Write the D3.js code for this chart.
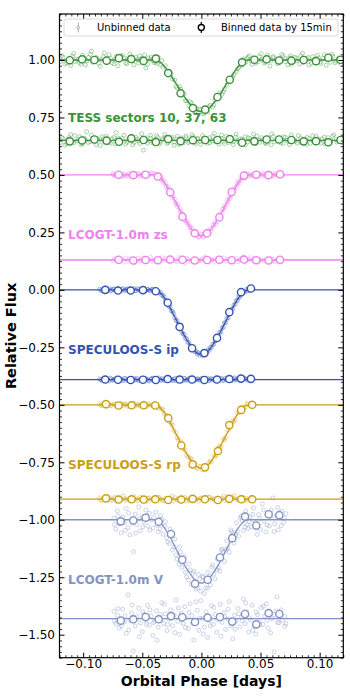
<!DOCTYPE html>
<html>
<head>
<meta charset="utf-8">
<script src="https://cdn.jsdelivr.net/npm/d3@7"></script>
<style>
  body { margin: 0; background: #fff; }
  svg { display: block; font-family: "DejaVu Sans", sans-serif; }
</style>
</head>
<body>
<div id="chart"></div>
<script>
// ---- data ----
const xMajor = [-0.10, -0.05, 0.00, 0.05, 0.10];
const yMajor = [-1.50, -1.25, -1.00, -0.75, -0.50, -0.25, 0.00, 0.25, 0.50, 0.75, 1.00];

// transit model, shared phase grid
const modelPhase = [-0.12, -0.040, -0.0375, -0.0345, -0.0315, -0.0285, -0.0255, -0.0225, -0.0195, -0.0165, -0.0135, -0.0105, -0.0075, -0.0045, -0.0015, 0, 0.0015, 0.0045, 0.0075, 0.0105, 0.0135, 0.0165, 0.0195, 0.0225, 0.0255, 0.0285, 0.0315, 0.0345, 0.0375, 0.040, 0.12];
const tessModel = [1, 1, 0.998, 0.989, 0.973, 0.953, 0.930, 0.906, 0.881, 0.856, 0.834, 0.813, 0.795, 0.782, 0.776, 0.775, 0.776, 0.782, 0.795, 0.813, 0.834, 0.856, 0.881, 0.906, 0.930, 0.953, 0.973, 0.989, 0.998, 1, 1];
const zsModel = [0.5, 0.5, 0.497, 0.487, 0.468, 0.444, 0.418, 0.389, 0.360, 0.330, 0.304, 0.280, 0.259, 0.243, 0.236, 0.235, 0.236, 0.243, 0.259, 0.280, 0.304, 0.330, 0.360, 0.389, 0.418, 0.444, 0.468, 0.487, 0.497, 0.5, 0.5];
const ipModel = [0, 0, -0.003, -0.014, -0.034, -0.059, -0.087, -0.118, -0.148, -0.179, -0.207, -0.232, -0.255, -0.272, -0.279, -0.280, -0.279, -0.272, -0.255, -0.232, -0.207, -0.179, -0.148, -0.118, -0.087, -0.059, -0.034, -0.014, -0.003, 0, 0];
const rpModel = [-0.5, -0.5, -0.503, -0.514, -0.533, -0.558, -0.585, -0.616, -0.646, -0.676, -0.704, -0.728, -0.750, -0.767, -0.774, -0.775, -0.774, -0.767, -0.750, -0.728, -0.704, -0.676, -0.646, -0.616, -0.585, -0.558, -0.533, -0.514, -0.503, -0.5, -0.5];
const vModel = [-1, -1, -1.003, -1.014, -1.033, -1.058, -1.085, -1.116, -1.146, -1.176, -1.204, -1.228, -1.250, -1.267, -1.274, -1.275, -1.274, -1.267, -1.250, -1.228, -1.204, -1.176, -1.146, -1.116, -1.085, -1.058, -1.033, -1.014, -1.003, -1, -1];

// TESS
const tessRaw = [[-0.119,0.994],[-0.117,1.012],[-0.114,0.987],[-0.112,1.006],[-0.109,1.017],[-0.107,0.992],[-0.104,1.003],[-0.102,0.981],[-0.099,1.009],[-0.097,0.996],[-0.094,1.024],[-0.092,0.990],[-0.089,1.011],[-0.087,0.985],[-0.084,1.002],[-0.082,1.031],[-0.079,0.994],[-0.077,1.008],[-0.074,0.983],[-0.072,1.015],[-0.069,0.999],[-0.067,1.020],[-0.064,0.988],[-0.062,1.006],[-0.059,1.013],[-0.057,0.979],[-0.054,1.001],[-0.052,1.018],[-0.049,0.992],[-0.047,0.965],[-0.045,1.009],[-0.043,1.004],[-0.041,0.997],
  [-0.118,1.019],[-0.1155,0.983],[-0.113,1.001],[-0.1105,0.976],[-0.108,1.028],[-0.1055,1.004],[-0.103,0.989],[-0.1005,1.021],[-0.098,0.979],[-0.0955,1.011],[-0.093,1.038],[-0.0905,0.993],[-0.088,1.005],[-0.0855,0.972],[-0.083,1.014],[-0.0805,0.996],[-0.078,1.023],[-0.0755,0.988],[-0.073,1.002],[-0.0705,0.975],[-0.068,1.017],[-0.0655,1.009],[-0.063,0.984],[-0.0605,1.026],[-0.058,0.997],[-0.0555,1.012],[-0.053,0.986],[-0.0505,1.007],[-0.048,1.022],[-0.0455,0.982],[-0.0425,1.013],[-0.040,0.988],
  [-0.0385,0.991],[-0.0365,1.012],[-0.0345,0.978],[-0.0325,0.969],[-0.0305,0.975],[-0.0285,0.941],[-0.0265,0.949],[-0.0245,0.917],[-0.0225,0.912],[-0.0205,0.879],[-0.0185,0.884],[-0.0165,0.848],[-0.0145,0.852],[-0.0125,0.822],[-0.0105,0.801],[-0.0085,0.812],[-0.0065,0.779],[-0.0045,0.791],[-0.0025,0.768],[-0.0005,0.784],[0.0015,0.765],[0.0035,0.789],[0.0055,0.774],[0.0075,0.803],[0.0095,0.796],[0.0115,0.826],[0.0135,0.829],[0.0155,0.857],[0.0175,0.851],[0.0195,0.874],[0.0215,0.891],[0.0235,0.909],[0.0255,0.921],[0.0275,0.938],[0.0295,0.949],[0.0315,0.966],[0.0335,0.976],[0.0355,1.004],[0.0375,0.991],[0.0395,1.012],
  [-0.0375,0.985],[-0.0335,0.997],[-0.0295,0.948],[-0.0255,0.939],[-0.0215,0.885],[-0.0175,0.873],[-0.0135,0.823],[-0.0095,0.818],[-0.0055,0.776],[-0.0015,0.787],[0.0025,0.769],[0.0065,0.797],[0.0105,0.804],[0.0145,0.846],[0.0185,0.862],[0.0225,0.905],[0.0265,0.927],[0.0305,0.961],[0.0345,0.979],[0.0385,1.006],
  [0.042,0.995],[0.044,1.008],[0.046,0.987],[0.049,1.015],[0.051,1.002],[0.054,0.991],[0.056,1.021],[0.059,0.998],[0.061,1.010],[0.064,0.984],[0.066,1.005],[0.069,1.017],[0.071,0.993],[0.074,1.008],[0.076,0.981],[0.079,1.012],[0.081,0.997],[0.084,1.019],[0.086,0.989],[0.089,1.006],[0.091,0.978],[0.094,1.014],[0.096,0.996],[0.099,1.009],[0.101,0.985],[0.104,1.023],[0.106,1.001],[0.109,0.990],[0.111,1.016],[0.114,0.994],[0.116,1.007],[0.119,0.998],
  [0.0405,1.018],[0.043,0.981],[0.0455,1.003],[0.048,0.992],[0.0505,1.027],[0.053,0.986],[0.0555,1.009],[0.058,0.974],[0.0605,1.015],[0.063,1.001],[0.0655,0.988],[0.068,1.024],[0.0705,1.006],[0.073,0.979],[0.0755,1.017],[0.078,0.991],[0.0805,1.008],[0.083,0.983],[0.0855,1.029],[0.088,0.997],[0.0905,1.011],[0.093,0.986],[0.0955,1.003],[0.098,1.021],[0.1005,0.992],[0.103,1.007],[0.1055,0.977],[0.108,1.012],[0.1105,1.025],[0.113,0.988],[0.1155,1.004],[0.118,0.982]];
const tessRawRes = [[-0.119,0.641],[-0.117,0.658],[-0.114,0.636],[-0.112,0.662],[-0.109,0.647],[-0.107,0.671],[-0.104,0.652],[-0.102,0.633],[-0.099,0.660],[-0.097,0.688],[-0.094,0.645],[-0.092,0.657],[-0.089,0.631],[-0.087,0.649],[-0.084,0.666],[-0.082,0.642],[-0.079,0.655],[-0.077,0.638],[-0.074,0.663],[-0.072,0.684],[-0.069,0.647],[-0.067,0.659],[-0.064,0.634],[-0.062,0.652],[-0.059,0.669],[-0.057,0.641],[-0.054,0.656],[-0.052,0.637],[-0.049,0.608],[-0.047,0.661],[-0.045,0.648],[-0.043,0.672],[-0.041,0.639],[-0.039,0.654],[-0.037,0.663],[-0.035,0.642],[-0.033,0.658],[-0.031,0.676],[-0.029,0.637],[-0.027,0.651],[-0.025,0.665],[-0.023,0.643],[-0.021,0.656],[-0.019,0.632],[-0.017,0.661],[-0.015,0.648],[-0.013,0.669],[-0.011,0.640],[-0.009,0.654],[-0.007,0.666],[-0.005,0.636],[-0.003,0.659],[-0.001,0.645],[0.001,0.671],[0.003,0.650],[0.005,0.638],[0.007,0.662],[0.009,0.647],[0.011,0.681],[0.013,0.655],[0.015,0.634],[0.017,0.659],[0.019,0.646],[0.021,0.668],[0.023,0.641],[0.025,0.653],[0.027,0.632],[0.029,0.664],[0.031,0.649],[0.033,0.657],[0.035,0.638],[0.037,0.666],[0.039,0.644],[0.041,0.659],[0.044,0.678],[0.046,0.636],[0.049,0.651],[0.051,0.662],[0.054,0.640],[0.056,0.655],[0.059,0.631],[0.061,0.667],[0.064,0.648],[0.066,0.657],[0.069,0.637],[0.071,0.663],[0.074,0.645],[0.076,0.674],[0.079,0.652],[0.081,0.639],[0.084,0.661],[0.086,0.648],[0.089,0.633],[0.091,0.659],[0.094,0.670],[0.096,0.643],[0.099,0.656],[0.101,0.638],[0.104,0.664],[0.106,0.650],[0.109,0.641],[0.111,0.668],[0.114,0.653],[0.116,0.646],[0.119,0.659],
  [-0.118,0.662],[-0.1155,0.629],[-0.113,0.654],[-0.1105,0.676],[-0.108,0.639],[-0.1055,0.648],[-0.103,0.667],[-0.1005,0.635],[-0.098,0.652],[-0.0955,0.641],[-0.093,0.673],[-0.0905,0.646],[-0.088,0.659],[-0.0855,0.628],[-0.083,0.655],[-0.0805,0.668],[-0.078,0.643],[-0.0755,0.657],[-0.073,0.635],[-0.0705,0.661],[-0.068,0.649],[-0.0655,0.672],[-0.063,0.642],[-0.0605,0.655],[-0.058,0.631],[-0.0555,0.664],[-0.053,0.647],[-0.0505,0.679],[-0.048,0.651],[-0.0455,0.638],[-0.043,0.660],[-0.0405,0.645],[-0.038,0.671],[-0.0355,0.634],[-0.033,0.652],[-0.0305,0.663],[-0.028,0.641],[-0.0255,0.657],[-0.023,0.629],[-0.0205,0.668],[-0.018,0.650],[-0.0155,0.639],[-0.013,0.662],[-0.0105,0.646],[-0.008,0.675],[-0.0055,0.643],[-0.003,0.656],[-0.0005,0.633],[0.002,0.661],[0.0045,0.648],[0.007,0.639],[0.0095,0.667],[0.012,0.644],[0.0145,0.658],[0.017,0.673],[0.0195,0.636],[0.022,0.652],[0.0245,0.663],[0.027,0.645],[0.0295,0.677],[0.032,0.641],[0.0345,0.655],[0.037,0.630],[0.0395,0.662],[0.042,0.649],[0.0445,0.657],[0.047,0.669],[0.0495,0.642],[0.052,0.654],[0.0545,0.636],[0.057,0.661],[0.0595,0.678],[0.062,0.644],[0.0645,0.653],[0.067,0.639],[0.0695,0.666],[0.072,0.651],[0.0745,0.632],[0.077,0.659],[0.0795,0.646],[0.082,0.671],[0.0845,0.640],[0.087,0.655],[0.0895,0.663],[0.092,0.637],[0.0945,0.650],[0.097,0.668],[0.0995,0.645],[0.102,0.657],[0.1045,0.634],[0.107,0.662],[0.1095,0.649],[0.112,0.675],[0.1145,0.643],[0.117,0.656],[0.1195,0.640]];
const tessBinPhase = [-0.1113, -0.1009, -0.0905, -0.0801, -0.0697, -0.0593, -0.0489, -0.0385, -0.0281, -0.0176, -0.0072, 0.0032, 0.0136, 0.0240, 0.0344, 0.0448, 0.0552, 0.0657, 0.0761, 0.0865, 0.0969, 0.1073, 0.1177];
const tessBinFlux = [0.999, 1.003, 1.000, 0.997, 1.008, 1.004, 0.996, 1.006, 0.943, 0.855, 0.791, 0.784, 0.839, 0.914, 0.990, 1.001, 1.003, 0.998, 0.997, 1.000, 0.995, 1.010, 1.001];
const tessBinRes = [0.646, 0.650, 0.654, 0.649, 0.644, 0.659, 0.652, 0.643, 0.656, 0.647, 0.651, 0.652, 0.652, 0.656, 0.640, 0.646, 0.654, 0.654, 0.652, 0.646, 0.647, 0.642, 0.652];

// LCOGT-1.0m zs
const zsRaw = [[-0.075,0.502],[-0.074,0.498],[-0.073,0.496],[-0.071,0.505],[-0.070,0.504],[-0.069,0.499],[-0.067,0.493],[-0.066,0.500],[-0.065,0.503],[-0.063,0.498],[-0.062,0.494],[-0.061,0.507],[-0.059,0.495],[-0.058,0.503],[-0.057,0.501],[-0.055,0.497],[-0.054,0.506],[-0.053,0.504],[-0.051,0.499],[-0.050,0.497],[-0.049,0.508],[-0.047,0.494],[-0.046,0.501],[-0.045,0.502],[-0.043,0.506],[-0.042,0.510],
  [-0.0745,0.505],[-0.0715,0.497],[-0.0685,0.503],[-0.0645,0.496],[-0.0605,0.502],[-0.0565,0.507],[-0.0525,0.495],[-0.0485,0.500],[-0.0445,0.497],[-0.0405,0.505],
  [-0.0385,0.503],[-0.0375,0.496],[-0.0365,0.489],[-0.0345,0.494],[-0.0335,0.483],[-0.0325,0.468],[-0.0305,0.466],[-0.0295,0.449],[-0.0285,0.438],[-0.0265,0.432],[-0.0255,0.421],[-0.0245,0.401],[-0.0225,0.395],[-0.0215,0.376],[-0.0205,0.362],[-0.0185,0.356],[-0.0175,0.342],[-0.0165,0.324],[-0.0145,0.319],[-0.0135,0.302],[-0.0125,0.290],[-0.0105,0.286],[-0.0095,0.276],[-0.0085,0.259],[-0.0065,0.249],[-0.0055,0.252],[-0.0045,0.238],[-0.0025,0.229],[-0.0015,0.233],[-0.0005,0.241],[0.0015,0.230],[0.0025,0.244],[0.0035,0.246],[0.0055,0.242],[0.0065,0.250],[0.0075,0.265],[0.0095,0.268],[0.0105,0.283],[0.0115,0.294],[0.0135,0.298],[0.0145,0.310],[0.0155,0.328],[0.0175,0.334],[0.0185,0.352],[0.0195,0.366],[0.0215,0.373],[0.0225,0.386],[0.0235,0.405],[0.0255,0.412],[0.0265,0.428],[0.0275,0.442],[0.0295,0.447],[0.0305,0.459],[0.0315,0.474],[0.0335,0.476],[0.0345,0.490],[0.0355,0.496],[0.0375,0.492],[0.0385,0.501],[0.0395,0.504],
  [-0.038,0.492],[-0.036,0.499],[-0.034,0.478],[-0.032,0.476],[-0.030,0.453],[-0.028,0.446],[-0.026,0.417],[-0.024,0.409],[-0.022,0.378],[-0.020,0.371],[-0.018,0.339],[-0.016,0.331],[-0.014,0.302],[-0.012,0.297],[-0.010,0.271],[-0.008,0.268],[-0.006,0.245],[-0.004,0.248],[-0.002,0.231],[0,0.240],[0.002,0.231],[0.004,0.236],[0.006,0.257],[0.008,0.256],[0.010,0.283],[0.012,0.285],[0.014,0.314],[0.016,0.320],[0.018,0.351],[0.020,0.359],[0.022,0.390],[0.024,0.397],[0.026,0.429],[0.028,0.434],[0.030,0.466],[0.032,0.465],[0.034,0.490],[0.036,0.486],[0.038,0.504],[0.040,0.495],
  [0.0415,0.497],[0.0425,0.501],[0.0435,0.505],[0.0455,0.499],[0.0465,0.507],[0.0475,0.494],[0.0495,0.503],[0.0505,0.498],[0.0515,0.508],[0.0535,0.496],[0.0545,0.503],[0.0555,0.501],[0.0575,0.493],[0.0585,0.496],[0.0595,0.505],[0.0615,0.498],[0.0625,0.506],[0.0635,0.502],[0.0655,0.495],[0.0665,0.499],[0.0675,0.504],
  [0.0445,0.496],[0.0485,0.504],[0.0525,0.501],[0.0565,0.508],[0.0605,0.495],[0.0645,0.500],[0.0685,0.497]];
const zsRawRes = [[-0.075,0.127],[-0.072,0.136],[-0.070,0.122],[-0.067,0.133],[-0.064,0.139],[-0.062,0.125],[-0.059,0.131],[-0.056,0.120],[-0.054,0.137],[-0.051,0.128],[-0.048,0.134],[-0.046,0.124],[-0.043,0.141],[-0.040,0.129],[-0.038,0.121],[-0.035,0.135],[-0.032,0.127],[-0.030,0.138],[-0.027,0.123],[-0.024,0.132],[-0.022,0.126],[-0.019,0.140],[-0.016,0.129],[-0.014,0.119],[-0.011,0.134],[-0.008,0.127],[-0.006,0.137],[-0.003,0.124],[0,0.131],[0.003,0.142],[0.005,0.126],[0.008,0.133],[0.011,0.121],[0.013,0.136],[0.016,0.128],[0.019,0.139],[0.021,0.125],[0.024,0.132],[0.027,0.122],[0.029,0.137],[0.032,0.129],[0.035,0.141],[0.037,0.124],[0.040,0.133],[0.043,0.127],[0.045,0.138],[0.048,0.121],[0.051,0.131],[0.053,0.126],[0.056,0.135],[0.059,0.123],[0.061,0.133],[0.064,0.128],[0.066,0.136],[0.0675,0.124],
  [-0.0735,0.134],[-0.0685,0.129],[-0.0655,0.121],[-0.0605,0.136],[-0.0575,0.130],[-0.0525,0.125],[-0.0495,0.139],[-0.0445,0.131],[-0.0415,0.124],[-0.0365,0.133],[-0.0335,0.140],[-0.0285,0.126],[-0.0255,0.134],[-0.0205,0.122],[-0.0175,0.131],[-0.0125,0.137],[-0.0095,0.124],[-0.0045,0.132],[-0.0015,0.127],[0.0015,0.135],[0.0065,0.121],[0.0095,0.130],[0.0145,0.138],[0.0175,0.126],[0.0225,0.133],[0.0265,0.129],[0.0305,0.122],[0.0335,0.136],[0.0385,0.128],[0.0415,0.140],[0.0465,0.125],[0.0495,0.133],[0.0545,0.129],[0.0585,0.137],[0.0625,0.122],[0.0655,0.131]];
const zsBinPhase = [-0.0700, -0.0576, -0.0472, -0.0368, -0.0264, -0.0160, -0.0056, 0.0048, 0.0152, 0.0256, 0.0360, 0.0464, 0.0568, 0.0665];
const zsBinFlux = [0.501, 0.499, 0.501, 0.493, 0.425, 0.318, 0.246, 0.246, 0.316, 0.426, 0.497, 0.501, 0.499, 0.503];
const zsBinRes = [0.131, 0.128, 0.130, 0.129, 0.132, 0.131, 0.128, 0.130, 0.131, 0.129, 0.132, 0.129, 0.128, 0.131];

// SPECULOOS-S ip
const ipRaw = [[-0.086,0.003],[-0.084,-0.004],[-0.082,0.002],[-0.080,-0.006],[-0.078,0.005],[-0.076,-0.002],[-0.074,0.004],[-0.072,-0.005],[-0.070,0.001],[-0.068,-0.003],[-0.066,0.006],[-0.064,-0.001],[-0.062,0.003],[-0.060,-0.006],[-0.058,0.002],[-0.056,-0.003],[-0.054,0.005],[-0.052,-0.002],[-0.050,0.001],[-0.048,-0.005],[-0.046,0.003],[-0.044,-0.002],[-0.042,0.002],[-0.040,-0.003],
  [-0.085,-0.002],[-0.083,0.004],[-0.081,-0.003],[-0.079,0.001],[-0.077,-0.005],[-0.075,0.003],[-0.073,-0.001],[-0.071,0.005],[-0.069,-0.004],[-0.067,0.002],[-0.065,-0.002],[-0.063,0.004],[-0.061,-0.003],[-0.059,0.001],[-0.057,0.006],[-0.055,-0.004],[-0.053,0.002],[-0.051,-0.001],[-0.049,0.004],[-0.047,-0.003],[-0.045,0.001],[-0.043,-0.004],[-0.041,0.003],[-0.039,-0.002],
  [-0.0375,-0.001],[-0.0365,-0.008],[-0.0355,-0.013],[-0.0345,-0.011],[-0.0335,-0.024],[-0.0325,-0.023],[-0.0315,-0.030],[-0.0305,-0.045],[-0.0295,-0.047],[-0.0285,-0.062],[-0.0275,-0.072],[-0.0265,-0.074],[-0.0255,-0.091],[-0.0245,-0.094],[-0.0235,-0.103],[-0.0225,-0.121],[-0.0215,-0.133],[-0.0205,-0.134],[-0.0195,-0.152],[-0.0185,-0.156],[-0.0175,-0.165],[-0.0165,-0.183],[-0.0155,-0.192],[-0.0145,-0.194],[-0.0135,-0.211],[-0.0125,-0.212],[-0.0115,-0.228],[-0.0105,-0.229],[-0.0095,-0.244],[-0.0085,-0.246],[-0.0075,-0.259],[-0.0065,-0.258],[-0.0055,-0.270],[-0.0045,-0.268],[-0.0035,-0.279],[-0.0025,-0.274],[-0.0015,-0.284],[-0.0005,-0.277],[0.0005,-0.285],[0.0015,-0.276],[0.0025,-0.282],[0.0035,-0.271],[0.0045,-0.276],[0.0055,-0.262],[0.0065,-0.264],[0.0075,-0.250],[0.0085,-0.251],[0.0095,-0.236],[0.0105,-0.236],[0.0115,-0.222],[0.0125,-0.220],[0.0135,-0.203],[0.0145,-0.202],[0.0155,-0.185],[0.0165,-0.183],[0.0175,-0.165],[0.0185,-0.163],[0.0195,-0.144],[0.0205,-0.142],[0.0215,-0.124],[0.0225,-0.122],[0.0235,-0.103],[0.0245,-0.101],[0.0255,-0.084],[0.0265,-0.082],[0.0275,-0.065],[0.0285,-0.063],[0.0295,-0.047],[0.0305,-0.046],[0.0315,-0.031],[0.0325,-0.031],[0.0335,-0.018],[0.0345,-0.018],[0.0355,-0.007],[0.0365,-0.010],[0.0375,0.001],[0.0385,-0.005],[0.0395,0.004],[0.0405,-0.003],[0.0415,0.005],[0.0425,0.001],[0.0435,0.004]];
const ipRawRes = [[-0.086,-0.387],[-0.084,-0.394],[-0.082,-0.385],[-0.080,-0.392],[-0.078,-0.396],[-0.076,-0.388],[-0.074,-0.391],[-0.072,-0.384],[-0.070,-0.393],[-0.068,-0.389],[-0.066,-0.395],[-0.064,-0.386],[-0.062,-0.390],[-0.060,-0.397],[-0.058,-0.388],[-0.056,-0.392],[-0.054,-0.385],[-0.052,-0.391],[-0.050,-0.394],[-0.048,-0.387],[-0.046,-0.390],[-0.044,-0.396],[-0.042,-0.386],[-0.040,-0.392],[-0.038,-0.389],[-0.036,-0.383],[-0.034,-0.394],[-0.032,-0.390],[-0.030,-0.386],[-0.028,-0.393],[-0.026,-0.388],[-0.024,-0.395],[-0.022,-0.385],[-0.020,-0.391],[-0.018,-0.389],[-0.016,-0.396],[-0.014,-0.386],[-0.012,-0.392],[-0.010,-0.384],[-0.008,-0.390],[-0.006,-0.395],[-0.004,-0.387],[-0.002,-0.391],[0,-0.385],[0.002,-0.393],[0.004,-0.389],[0.006,-0.396],[0.008,-0.386],[0.010,-0.390],[0.012,-0.384],[0.014,-0.392],[0.016,-0.388],[0.018,-0.395],[0.020,-0.385],[0.022,-0.391],[0.024,-0.387],[0.026,-0.394],[0.028,-0.383],[0.030,-0.390],[0.032,-0.386],[0.034,-0.392],[0.036,-0.384],[0.038,-0.389],[0.040,-0.385],[0.042,-0.391],[0.0435,-0.387],
  [-0.085,-0.392],[-0.083,-0.386],[-0.081,-0.395],[-0.079,-0.389],[-0.077,-0.384],[-0.075,-0.393],[-0.073,-0.388],[-0.071,-0.396],[-0.069,-0.386],[-0.067,-0.391],[-0.065,-0.385],[-0.063,-0.394],[-0.061,-0.388],[-0.059,-0.392],[-0.057,-0.384],[-0.055,-0.390],[-0.053,-0.395],[-0.051,-0.387],[-0.049,-0.391],[-0.047,-0.385],[-0.045,-0.393],[-0.043,-0.389],[-0.041,-0.384],[-0.039,-0.394],[-0.037,-0.387],[-0.035,-0.391],[-0.033,-0.386],[-0.031,-0.395],[-0.029,-0.389],[-0.027,-0.384],[-0.025,-0.392],[-0.023,-0.388],[-0.021,-0.396],[-0.019,-0.386],[-0.017,-0.390],[-0.015,-0.384],[-0.013,-0.393],[-0.011,-0.389],[-0.009,-0.395],[-0.007,-0.385],[-0.005,-0.391],[-0.003,-0.388],[-0.001,-0.394],[0.001,-0.386],[0.003,-0.390],[0.005,-0.384],[0.007,-0.392],[0.009,-0.388],[0.011,-0.395],[0.013,-0.386],[0.015,-0.391],[0.017,-0.385],[0.019,-0.393],[0.021,-0.389],[0.023,-0.384],[0.025,-0.394],[0.027,-0.388],[0.029,-0.391],[0.031,-0.385],[0.033,-0.393],[0.035,-0.389],[0.037,-0.386],[0.039,-0.392],[0.041,-0.388]];
const ipBinPhase = [-0.0813, -0.0705, -0.0598, -0.0494, -0.0386, -0.0285, -0.0184, -0.0079, 0.0025, 0.0132, 0.0236, 0.0335, 0.0419];
const ipBinFlux = [0.000, -0.003, -0.003, -0.001, -0.006, -0.056, -0.161, -0.254, -0.275, -0.209, -0.097, -0.010, 0.006];
const ipBinRes = [-0.390, -0.391, -0.392, -0.391, -0.392, -0.388, -0.390, -0.390, -0.392, -0.390, -0.388, -0.386, -0.387];

// SPECULOOS-S rp
const rpRaw = [[-0.086,-0.496],[-0.084,-0.504],[-0.082,-0.499],[-0.080,-0.506],[-0.078,-0.497],[-0.076,-0.502],[-0.074,-0.495],[-0.072,-0.505],[-0.070,-0.500],[-0.068,-0.494],[-0.066,-0.503],[-0.064,-0.498],[-0.062,-0.507],[-0.060,-0.501],[-0.058,-0.496],[-0.056,-0.504],[-0.054,-0.499],[-0.052,-0.505],[-0.050,-0.497],[-0.048,-0.502],[-0.046,-0.506],[-0.044,-0.498],[-0.042,-0.503],[-0.040,-0.495],
  [-0.085,-0.501],[-0.081,-0.495],[-0.077,-0.504],[-0.073,-0.499],[-0.069,-0.506],[-0.065,-0.497],[-0.061,-0.502],[-0.057,-0.493],[-0.053,-0.501],[-0.049,-0.507],[-0.045,-0.499],[-0.041,-0.503],
  [-0.0375,-0.499],[-0.0355,-0.514],[-0.0335,-0.516],[-0.0315,-0.539],[-0.0295,-0.546],[-0.0275,-0.573],[-0.0255,-0.581],[-0.0235,-0.611],[-0.0215,-0.621],[-0.0195,-0.652],[-0.0175,-0.661],[-0.0155,-0.691],[-0.0135,-0.699],[-0.0115,-0.726],[-0.0095,-0.731],[-0.0075,-0.757],[-0.0055,-0.756],[-0.0035,-0.777],[-0.0015,-0.768],[0.0005,-0.782],[0.0025,-0.767],[0.0045,-0.773],[0.0065,-0.751],[0.0085,-0.749],[0.0105,-0.722],[0.0125,-0.718],[0.0145,-0.688],[0.0165,-0.682],[0.0185,-0.650],[0.0205,-0.642],[0.0225,-0.610],[0.0245,-0.601],[0.0265,-0.570],[0.0285,-0.564],[0.0305,-0.535],[0.0325,-0.533],[0.0345,-0.508],[0.0365,-0.512],[0.0385,-0.496],[0.0405,-0.503],[0.0425,-0.497],
  [-0.0365,-0.511],[-0.0325,-0.522],[-0.0285,-0.564],[-0.0245,-0.589],[-0.0205,-0.643],[-0.0165,-0.670],[-0.0125,-0.719],[-0.0085,-0.737],[-0.0045,-0.774],[-0.0005,-0.769],[0.0035,-0.777],[0.0075,-0.744],[0.0115,-0.727],[0.0155,-0.679],[0.0195,-0.653],[0.0235,-0.598],[0.0275,-0.574],[0.0315,-0.527],[0.0355,-0.516],[0.0395,-0.494]];
const rpRawRes = [[-0.086,-0.905],[-0.084,-0.917],[-0.082,-0.909],[-0.080,-0.913],[-0.078,-0.902],[-0.076,-0.915],[-0.074,-0.908],[-0.072,-0.919],[-0.070,-0.906],[-0.068,-0.912],[-0.066,-0.897],[-0.064,-0.914],[-0.062,-0.908],[-0.060,-0.918],[-0.058,-0.904],[-0.056,-0.911],[-0.054,-0.916],[-0.052,-0.903],[-0.050,-0.913],[-0.048,-0.907],[-0.046,-0.920],[-0.044,-0.905],[-0.042,-0.912],[-0.040,-0.909],[-0.038,-0.915],[-0.036,-0.902],[-0.034,-0.911],[-0.032,-0.917],[-0.030,-0.906],[-0.028,-0.913],[-0.026,-0.908],[-0.024,-0.919],[-0.022,-0.904],[-0.020,-0.912],[-0.018,-0.907],[-0.016,-0.915],[-0.014,-0.903],[-0.012,-0.910],[-0.010,-0.916],[-0.008,-0.906],[-0.006,-0.913],[-0.004,-0.909],[-0.002,-0.918],[0,-0.905],[0.002,-0.911],[0.004,-0.914],[0.006,-0.902],[0.008,-0.912],[0.010,-0.908],[0.012,-0.917],[0.014,-0.905],[0.016,-0.911],[0.018,-0.907],[0.020,-0.915],[0.022,-0.901],[0.024,-0.912],[0.026,-0.906],[0.028,-0.896],[0.030,-0.913],[0.032,-0.908],[0.034,-0.902],[0.036,-0.914],[0.038,-0.907],[0.040,-0.911],[0.0425,-0.904],
  [-0.085,-0.913],[-0.081,-0.904],[-0.077,-0.911],[-0.073,-0.901],[-0.069,-0.916],[-0.065,-0.909],[-0.061,-0.914],[-0.057,-0.899],[-0.053,-0.910],[-0.049,-0.917],[-0.045,-0.906],[-0.041,-0.912],[-0.037,-0.903],[-0.033,-0.915],[-0.029,-0.908],[-0.025,-0.898],[-0.021,-0.913],[-0.017,-0.906],[-0.013,-0.918],[-0.009,-0.904],[-0.005,-0.911],[-0.001,-0.907],[0.003,-0.916],[0.007,-0.903],[0.011,-0.912],[0.015,-0.909],[0.019,-0.898],[0.023,-0.914],[0.027,-0.905],[0.031,-0.911],[0.035,-0.903],[0.039,-0.915]];
const rpBinPhase = [-0.0807, -0.0700, -0.0590, -0.0488, -0.0390, -0.0280, -0.0170, -0.0074, 0.0030, 0.0140, 0.0236, 0.0337, 0.0430];
const rpBinFlux = [-0.497, -0.503, -0.502, -0.502, -0.503, -0.558, -0.677, -0.759, -0.772, -0.701, -0.588, -0.522, -0.500];
const rpBinRes = [-0.907, -0.912, -0.911, -0.912, -0.911, -0.914, -0.912, -0.909, -0.911, -0.914, -0.909, -0.911, -0.911];

// LCOGT-1.0m V
const vRaw = [[-0.074,-0.993],[-0.0725,-1.041],[-0.071,-0.962],[-0.0695,-1.018],[-0.068,-1.057],[-0.0665,-0.988],[-0.065,-1.012],[-0.0635,-0.951],[-0.062,-1.034],[-0.0605,-1.066],[-0.059,-0.997],[-0.0575,-1.139],[-0.056,-0.976],[-0.0545,-1.021],[-0.053,-0.944],[-0.0515,-1.048],[-0.050,-0.985],[-0.0485,-1.009],[-0.047,-0.958],[-0.0455,-1.027],[-0.044,-0.972],[-0.0425,-1.002],[-0.041,-1.036],
  [-0.0735,-1.021],[-0.0705,-0.984],[-0.0675,-1.003],[-0.0645,-1.046],[-0.0615,-0.972],[-0.0585,-1.015],[-0.0555,-1.058],[-0.0525,-0.996],[-0.0495,-1.031],[-0.0465,-0.981],[-0.0435,-1.044],[-0.0405,-0.991],
  [-0.0385,-0.968],[-0.0375,-1.024],[-0.0365,-1.052],[-0.0345,-0.981],[-0.0335,-0.997],[-0.0325,-1.063],[-0.0305,-1.008],[-0.0295,-1.079],[-0.0285,-1.097],[-0.0265,-1.041],[-0.0255,-1.062],[-0.0245,-1.132],[-0.0225,-1.084],[-0.0215,-1.153],[-0.0205,-1.171],[-0.0185,-1.119],[-0.0175,-1.141],[-0.0165,-1.208],[-0.0145,-1.161],[-0.0135,-1.229],[-0.0125,-1.249],[-0.0105,-1.193],[-0.0095,-1.218],[-0.0085,-1.281],[-0.0065,-1.224],[-0.0055,-1.289],[-0.0045,-1.302],[-0.0025,-1.238],[-0.0015,-1.258],[-0.0005,-1.311],[0.0015,-1.246],[0.0025,-1.321],[0.0035,-1.296],[0.0055,-1.229],[0.0065,-1.247],[0.0075,-1.284],[0.0095,-1.198],[0.0105,-1.236],[0.0115,-1.257],[0.0135,-1.171],[0.0145,-1.208],[0.0155,-1.223],[0.0175,-1.128],[0.0185,-1.139],[0.0195,-1.182],[0.0215,-1.091],[0.0225,-1.121],[0.0235,-1.141],[0.0255,-1.052],[0.0265,-1.061],[0.0275,-1.102],[0.0295,-1.013],[0.0305,-1.049],[0.0315,-1.071],[0.0335,-0.984],[0.0345,-1.002],[0.0355,-1.047],[0.0375,-0.962],[0.0385,-1.021],[0.0395,-1.038],
  [-0.035,-1.041],[-0.031,-1.028],[-0.027,-1.104],[-0.023,-1.118],[-0.019,-1.193],[-0.015,-1.187],[-0.011,-1.262],[-0.007,-1.233],[-0.003,-1.296],[0.001,-1.249],[0.005,-1.298],[0.009,-1.207],[0.013,-1.218],[0.017,-1.133],[0.021,-1.131],[0.025,-1.044],[0.029,-1.066],[0.033,-0.993],[0.037,-1.032],
  [0.041,-0.987],[0.0425,-1.031],[0.044,-0.949],[0.0455,-1.012],[0.047,-1.064],[0.0485,-0.978],[0.050,-1.042],[0.0515,-0.931],[0.053,-1.006],[0.0545,-1.053],[0.056,-0.969],[0.0575,-1.027],[0.059,-0.958],[0.0605,-0.905],[0.062,-1.018],[0.0635,-0.982],[0.065,-1.044],[0.0665,-0.991],[0.068,-0.962],[0.0695,-1.011],[0.0715,-0.973],
  [0.0405,-1.008],[0.0435,-0.976],[0.0465,-1.036],[0.0495,-0.995],[0.0525,-0.957],[0.0555,-1.023],[0.0585,-0.988],[0.0615,-1.051],[0.0645,-0.947],[0.0675,-1.026],[0.0705,-0.994]];
const vRawRes = [[-0.074,-1.398],[-0.0725,-1.452],[-0.071,-1.416],[-0.0695,-1.471],[-0.068,-1.428],[-0.0665,-1.389],[-0.065,-1.445],[-0.0635,-1.493],[-0.062,-1.327],[-0.0605,-1.438],[-0.059,-1.407],[-0.0575,-1.571],[-0.056,-1.462],[-0.0545,-1.421],[-0.053,-1.384],[-0.0515,-1.448],[-0.050,-1.487],[-0.0485,-1.412],[-0.047,-1.436],[-0.0455,-1.372],[-0.044,-1.459],[-0.0425,-1.418],[-0.041,-1.503],[-0.0395,-1.441],[-0.038,-1.396],[-0.0365,-1.467],[-0.035,-1.425],[-0.0335,-1.361],[-0.032,-1.452],[-0.0305,-1.409],[-0.029,-1.482],[-0.0275,-1.433],[-0.026,-1.392],[-0.0245,-1.461],[-0.023,-1.415],[-0.0215,-1.349],[-0.020,-1.442],[-0.0185,-1.498],[-0.017,-1.406],[-0.0155,-1.451],[-0.014,-1.378],[-0.0125,-1.427],[-0.011,-1.473],[-0.0095,-1.365],[-0.008,-1.418],[-0.0065,-1.523],[-0.005,-1.446],[-0.0035,-1.394],[-0.002,-1.481],[-0.0005,-1.352],[0.001,-1.429],[0.0025,-1.467],[0.004,-1.401],[0.0055,-1.512],[0.007,-1.438],[0.0085,-1.374],[0.010,-1.455],[0.0115,-1.412],[0.013,-1.489],[0.0145,-1.423],[0.016,-1.368],[0.0175,-1.446],[0.019,-1.404],[0.0205,-1.477],[0.022,-1.431],[0.0235,-1.356],[0.025,-1.462],[0.0265,-1.518],[0.028,-1.415],[0.0295,-1.441],[0.031,-1.386],[0.0325,-1.467],[0.034,-1.423],[0.0355,-1.345],[0.037,-1.452],[0.0385,-1.401],[0.040,-1.488],[0.0415,-1.436],[0.043,-1.372],[0.0445,-1.461],[0.046,-1.497],[0.0475,-1.413],[0.049,-1.444],[0.0505,-1.382],[0.052,-1.455],[0.0535,-1.419],[0.055,-1.365],[0.0565,-1.472],[0.058,-1.408],[0.0595,-1.431],[0.0615,-1.575],[0.063,-1.397],[0.064,-1.335],[0.0655,-1.448],[0.067,-1.412],[0.0685,-1.437],[0.0705,-1.421],[0.0715,-1.452],
  [-0.0735,-1.441],[-0.0705,-1.387],[-0.0675,-1.462],[-0.0645,-1.418],[-0.0615,-1.479],[-0.0585,-1.371],[-0.0555,-1.433],[-0.0525,-1.509],[-0.0495,-1.401],[-0.0465,-1.454],[-0.0435,-1.392],[-0.0405,-1.447],[-0.0375,-1.523],[-0.0345,-1.412],[-0.0315,-1.368],[-0.0285,-1.456],[-0.0255,-1.427],[-0.0225,-1.491],[-0.0195,-1.384],[-0.0165,-1.437],[-0.0135,-1.469],[-0.0105,-1.403],[-0.0075,-1.451],[-0.0045,-1.357],[-0.0015,-1.428],[0.0015,-1.497],[0.0045,-1.415],[0.0075,-1.462],[0.0105,-1.381],[0.0135,-1.434],[0.0165,-1.507],[0.0195,-1.421],[0.0225,-1.389],[0.0255,-1.448],[0.0285,-1.476],[0.0315,-1.409],[0.0345,-1.439],[0.0375,-1.362],[0.0405,-1.427],[0.0435,-1.481],[0.0465,-1.402],[0.0495,-1.458],[0.0525,-1.376],[0.0555,-1.437],[0.0585,-1.492],[0.0615,-1.413],[0.0645,-1.446],[0.0675,-1.392],[0.0705,-1.463]];
const vBinPhase = [-0.0682, -0.0576, -0.0471, -0.0361, -0.0257, -0.0162, -0.0054, 0.0053, 0.0157, 0.0261, 0.0369, 0.0464, 0.0569, 0.0659];
const vBinFlux = [-1.007, -1.003, -0.991, -1.009, -1.062, -1.174, -1.278, -1.261, -1.164, -1.080, -0.986, -1.025, -0.976, -0.980];
const vBinRes = [-1.439, -1.433, -1.423, -1.433, -1.419, -1.424, -1.445, -1.426, -1.423, -1.443, -1.410, -1.455, -1.406, -1.410];
const vBinErr = [0.012, 0.012, 0.013, 0.012, 0.012, 0.013, 0.012, 0.013, 0.012, 0.013, 0.014, 0.013, 0.016, 0.017];

// ---- chart ----
const width = 350, height = 700;
const margin = {top: 14, right: 6.7, bottom: 42.3, left: 59.5};

const sets = [
    {name: "TESS sectors 10, 37, 63", color: "#3a923a", model: tessModel, resid: 0.65, raw: tessRaw, rawRes: tessRawRes,
        binPhase: tessBinPhase, bin: tessBinFlux, binRes: tessBinRes, labelAt: 0.75},
    {name: "LCOGT-1.0m zs", color: "#ee82ee", model: zsModel, resid: 0.13, raw: zsRaw, rawRes: zsRawRes,
        binPhase: zsBinPhase, bin: zsBinFlux, binRes: zsBinRes, labelAt: 0.24},
    {name: "SPECULOOS-S ip", color: "#3452b4", model: ipModel, resid: -0.39, raw: ipRaw, rawRes: ipRawRes,
        binPhase: ipBinPhase, bin: ipBinFlux, binRes: ipBinRes, labelAt: -0.262},
    {name: "SPECULOOS-S rp", color: "#c9a012", model: rpModel, resid: -0.91, raw: rpRaw, rawRes: rpRawRes,
        binPhase: rpBinPhase, bin: rpBinFlux, binRes: rpBinRes, labelAt: -0.762},
    {name: "LCOGT-1.0m V", color: "#8393c4", model: vModel, resid: -1.43, raw: vRaw, rawRes: vRawRes,
        binPhase: vBinPhase, bin: vBinFlux, binRes: vBinRes, err: vBinErr, labelAt: -1.262}
];

const x = d3.scaleLinear().domain([-0.12, 0.12]).range([margin.left, width - margin.right]);
const y = d3.scaleLinear().domain([-1.6, 1.2]).range([height - margin.bottom, margin.top]);

const svg = d3.select("#chart").append("svg")
    .attr("width", width)
    .attr("height", height)
    .attr("viewBox", `0 0 ${width} ${height}`);

svg.append("defs").append("clipPath").attr("id", "clip")
    .append("rect")
    .attr("x", margin.left).attr("y", margin.top)
    .attr("width", width - margin.left - margin.right)
    .attr("height", height - margin.top - margin.bottom);

const plot = svg.append("g").attr("clip-path", "url(#clip)");
const line = d3.line().x(d => x(d[0])).y(d => y(d[1])).curve(d3.curveMonotoneX);

sets.forEach(s => {
    const g = plot.append("g");
    // unbinned points
    g.selectAll("circle.raw")
        .data(s.raw.concat(s.rawRes))
        .join("circle")
        .attr("class", "raw")
        .attr("cx", d => x(d[0]))
        .attr("cy", d => y(d[1]))
        .attr("r", 2)
        .attr("fill", "none")
        .attr("stroke", s.color)
        .attr("stroke-opacity", 0.5)
        .attr("stroke-width", 0.8);
    // model + residual baseline
    g.append("path")
        .datum(modelPhase.map((p, i) => [p, s.model[i]]))
        .attr("d", line)
        .attr("fill", "none")
        .attr("stroke", s.color)
        .attr("stroke-width", 1.3);
    g.append("line")
        .attr("x1", x.range()[0]).attr("x2", x.range()[1])
        .attr("y1", y(s.resid)).attr("y2", y(s.resid))
        .attr("stroke", s.color)
        .attr("stroke-width", 1.3);
    // binned points
    const binned = s.binPhase.map((p, i) => [p, s.bin[i], s.err ? s.err[i] : 0])
        .concat(s.binPhase.map((p, i) => [p, s.binRes[i], s.err ? s.err[i] : 0]));
    g.selectAll("line.err")
        .data(binned.filter(d => d[2] > 0))
        .join("line")
        .attr("class", "err")
        .attr("x1", d => x(d[0])).attr("x2", d => x(d[0]))
        .attr("y1", d => y(d[1] - d[2])).attr("y2", d => y(d[1] + d[2]))
        .attr("stroke", s.color)
        .attr("stroke-width", 1.2);
    g.selectAll("circle.bin")
        .data(binned)
        .join("circle")
        .attr("class", "bin")
        .attr("cx", d => x(d[0]))
        .attr("cy", d => y(d[1]))
        .attr("r", 3.6)
        .attr("fill", "#fff")
        .attr("stroke", s.color)
        .attr("stroke-width", 1.4);
});

// dataset labels
svg.append("g")
    .selectAll("text")
    .data(sets)
    .join("text")
    .attr("x", x(-0.1128))
    .attr("y", d => y(d.labelAt))
    .attr("dy", "0.36em")
    .attr("fill", d => d.color)
    .attr("font-size", 12)
    .attr("font-weight", "bold")
    .text(d => d.name);

// axes: inward ticks on all four sides
const fmt = d3.format(".2f");
const xMinor = d3.range(-24, 25).map(i => i * 0.005).filter(v => !xMajor.some(m => Math.abs(m - v) < 1e-9));
const yMinor = d3.range(-64, 49).map(i => i * 0.025).filter(v => !yMajor.some(m => Math.abs(m - v) < 1e-9));
const x0 = x.range()[0], x1 = x.range()[1], y0 = y.range()[0], y1 = y.range()[1];

function ticks(axisFn, scale, values, size, pos, labels, pad) {
    const a = axisFn(scale).tickValues(values).tickSizeInner(-size).tickSizeOuter(0).tickPadding(pad || 4.5)
        .tickFormat(labels ? fmt : "");
    const g = svg.append("g").attr("transform", pos).call(a);
    g.select(".domain").remove();
    g.selectAll(".tick line").attr("stroke", "#000").attr("stroke-width", size > 3 ? 1 : 0.8);
    g.selectAll("text").attr("font-size", 12).attr("font-family", "DejaVu Sans").attr("fill", "#000");
    return g;
}

ticks(d3.axisBottom, x, xMajor, 5, `translate(0,${y0})`, true, 2);
ticks(d3.axisBottom, x, xMinor, 2.5, `translate(0,${y0})`, false);
ticks(d3.axisTop, x, xMajor, 5, `translate(0,${y1})`, false);
ticks(d3.axisTop, x, xMinor, 2.5, `translate(0,${y1})`, false);
ticks(d3.axisLeft, y, yMajor, 5, `translate(${x0},0)`, true, 4.5);
ticks(d3.axisLeft, y, yMinor, 2.5, `translate(${x0},0)`, false);
ticks(d3.axisRight, y, yMajor, 5, `translate(${x1},0)`, false);
ticks(d3.axisRight, y, yMinor, 2.5, `translate(${x1},0)`, false);

svg.append("rect")
    .attr("x", x0).attr("y", y1)
    .attr("width", x1 - x0).attr("height", y0 - y1)
    .attr("fill", "none")
    .attr("stroke", "#000")
    .attr("stroke-width", 1.2);

// axis titles
svg.append("text")
    .attr("x", (x0 + x1) / 2)
    .attr("y", 685.5)
    .attr("text-anchor", "middle")
    .attr("font-size", 14)
    .attr("font-weight", "bold")
    .text("Orbital Phase [days]");

svg.append("text")
    .attr("transform", `translate(11,${(y0 + y1) / 2}) rotate(-90)`)
    .attr("text-anchor", "middle")
    .attr("dy", "0.35em")
    .attr("font-size", 14.5)
    .attr("font-weight", "bold")
    .text("Relative Flux");

// legend
const legend = svg.append("g");
legend.append("rect")
    .attr("x", 64).attr("y", 19)
    .attr("width", 274).attr("height", 17)
    .attr("rx", 2.5)
    .attr("fill", "#fff").attr("fill-opacity", 0.85)
    .attr("stroke", "#d0d0d0").attr("stroke-width", 0.8);
legend.append("line")
    .attr("x1", 78.3).attr("x2", 78.3).attr("y1", 22.5).attr("y2", 32.5)
    .attr("stroke", "#999").attr("stroke-width", 0.8);
legend.append("circle")
    .attr("cx", 78.3).attr("cy", 27.5).attr("r", 1.4)
    .attr("fill", "#fff").attr("stroke", "#999").attr("stroke-width", 0.8);
legend.append("text")
    .attr("x", 97).attr("y", 31)
    .attr("font-size", 10)
    .text("Unbinned data");
legend.append("line")
    .attr("x1", 201.3).attr("x2", 201.3).attr("y1", 22).attr("y2", 33)
    .attr("stroke", "#000").attr("stroke-width", 1.2);
legend.append("circle")
    .attr("cx", 201.3).attr("cy", 27.5).attr("r", 3)
    .attr("fill", "#fff").attr("stroke", "#000").attr("stroke-width", 1.4);
legend.append("text")
    .attr("x", 221).attr("y", 31)
    .attr("font-size", 10)
    .text("Binned data by 15min");
</script>
</body>
</html>
